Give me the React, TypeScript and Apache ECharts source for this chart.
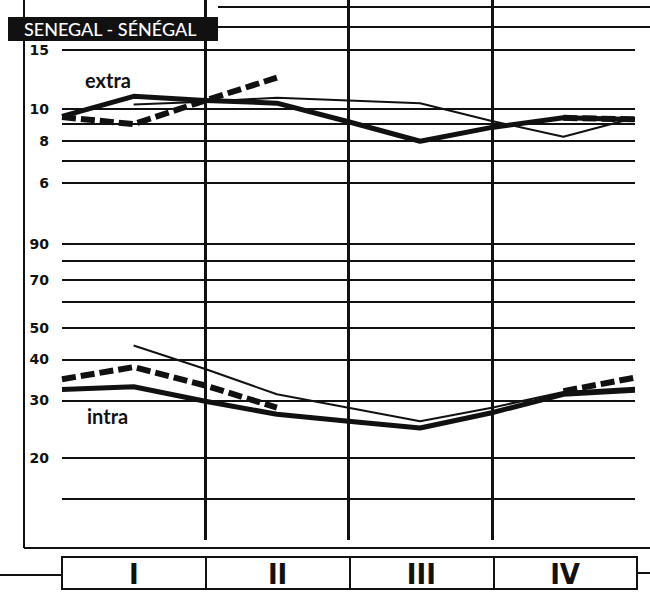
import React, { useEffect, useRef } from "react";
import * as echarts from "echarts";

// x positions: 0..8 (quarter starts/middles/ends)
const quarters = ["I", "II", "III", "IV"];
const quarterBounds = [2, 4, 6];

const upperGridValues = [15, 10, 9, 8, 7, 6];
const upperLabels = [15, 10, 8, 6];
const lowerGridValues = [90, 80, 70, 60, 50, 40, 30, 20, 15];
const lowerLabels = [90, 70, 50, 40, 30, 20];

const extraThick = [9.5, 10.9, 10.6, 10.4, 9.15, 8.0, 8.8, 9.4, 9.3];
const extraThin = [null, 10.3, 10.5, 10.8, 10.6, 10.4, 9.2, 8.25, 9.4];
const extraDashed = [9.45, 9.0, 10.6, 12.4, null, null, null, 9.4, 9.3];

const intraThick = [32.4, 33.0, 29.8, 27.2, 25.9, 24.7, 27.5, 31.3, 32.2];
const intraThin = [null, 44.1, 37.4, 31.3, 28.5, 25.9, 28.5, 31.8, 32.8];
const intraDashed = [34.8, 37.9, 33.3, 28.5, null, null, null, 32.0, 35.2];

const INK = "#111";

function pts(arr: (number | null)[]) {
  return arr.map((v, i) => [i, v == null ? "-" : v]);
}

function gridLines(values: number[], labels: number[]) {
  return values.map((v) => ({
    yAxis: v,
    label: {
      show: labels.includes(v),
      position: "start",
      distance: 13,
      formatter: String(v),
      color: INK,
      fontWeight: "bold",
      fontSize: 14,
      fontFamily: "DejaVu Sans",
    },
  }));
}

export default function App() {
  const ref = useRef<HTMLDivElement>(null);
  useEffect(() => {
    if (!ref.current) return;
    const chart = echarts.init(ref.current, null, { renderer: "svg" });
    const lineSeries = (
      name: string,
      data: (number | null)[],
      gi: number,
      width: number,
      dashed: boolean
    ) => ({
      name,
      type: "line",
      xAxisIndex: gi,
      yAxisIndex: gi,
      data: pts(data),
      symbol: "none",
      connectNulls: false,
      z: dashed ? 6 : 5,
      lineStyle: {
        color: INK,
        width,
        type: dashed ? [14, 5] : "solid",
        cap: "butt",
        join: "round",
      },
    });
    const option: any = {
      animation: false,
      backgroundColor: "#fff",
      grid: [
        { left: 62, right: 15, top: 0, height: 540 },
        { left: 62, right: 15, top: 50, height: 133 },
        { left: 62, right: 15, top: 244, height: 255 },
        {
          left: 62,
          right: 13,
          top: 557,
          height: 32,
          show: true,
          borderColor: INK,
          borderWidth: 2,
        },
      ],
      xAxis: [
        { gridIndex: 0, type: "value", min: 0, max: 8, show: false },
        { gridIndex: 1, type: "value", min: 0, max: 8, show: false },
        { gridIndex: 2, type: "value", min: 0, max: 8, show: false },
        {
          gridIndex: 3,
          type: "category",
          data: quarters,
          position: "top",
          axisLine: { show: false },
          axisTick: { show: false },
          splitLine: { show: true, lineStyle: { color: INK, width: 2 } },
          axisLabel: {
            inside: true,
            margin: 2,
            color: INK,
            fontSize: 29,
            fontWeight: "bold",
            fontFamily: "DejaVu Sans Condensed",
          },
        },
      ],
      yAxis: [
        { gridIndex: 0, type: "value", min: 0, max: 1, show: false },
        { gridIndex: 1, type: "log", logBase: 10, min: 6, max: 15, show: false },
        { gridIndex: 2, type: "log", logBase: 10, min: 15, max: 90, show: false },
        { gridIndex: 3, type: "value", min: 0, max: 1, show: false },
      ],
      series: [
        {
          type: "line",
          xAxisIndex: 0,
          yAxisIndex: 0,
          data: [],
          z: 1,
          markLine: {
            silent: true,
            symbol: ["none", "none"],
            label: { show: false },
            lineStyle: { color: INK, width: 3, type: "solid" },
            data: quarterBounds.map((q) => ({ xAxis: q })),
          },
        },
        {
          type: "line",
          xAxisIndex: 1,
          yAxisIndex: 1,
          data: [],
          z: 1,
          markLine: {
            silent: true,
            symbol: ["none", "none"],
            lineStyle: { color: INK, width: 2, type: "solid" },
            data: gridLines(upperGridValues, upperLabels),
          },
        },
        {
          type: "line",
          xAxisIndex: 2,
          yAxisIndex: 2,
          data: [],
          z: 1,
          markLine: {
            silent: true,
            symbol: ["none", "none"],
            lineStyle: { color: INK, width: 2, type: "solid" },
            data: gridLines(lowerGridValues, lowerLabels),
          },
        },
        lineSeries("extra-thick", extraThick, 1, 5, false),
        lineSeries("extra-thin", extraThin, 1, 2, false),
        lineSeries("extra-dashed", extraDashed, 1, 6, true),
        lineSeries("intra-thick", intraThick, 2, 5, false),
        lineSeries("intra-thin", intraThin, 2, 2, false),
        lineSeries("intra-dashed", intraDashed, 2, 6, true),
      ],
      graphic: [
        // frame
        { type: "line", shape: { x1: 24, y1: 0, x2: 24, y2: 548 }, style: { stroke: INK, lineWidth: 2 } },
        { type: "line", shape: { x1: 24, y1: 548, x2: 650, y2: 548 }, style: { stroke: INK, lineWidth: 2 } },
        { type: "line", shape: { x1: 218, y1: 7, x2: 650, y2: 7 }, style: { stroke: INK, lineWidth: 2 } },
        { type: "line", shape: { x1: 218, y1: 27, x2: 650, y2: 27 }, style: { stroke: INK, lineWidth: 2 } },
        { type: "line", shape: { x1: 0, y1: 575, x2: 62, y2: 575 }, style: { stroke: INK, lineWidth: 2 } },
        { type: "line", shape: { x1: 637, y1: 573, x2: 650, y2: 573 }, style: { stroke: INK, lineWidth: 2 } },
        // title
        { type: "rect", shape: { x: 8, y: 17, width: 210, height: 24 }, style: { fill: INK } },
        {
          type: "text",
          x: 24,
          y: 29,
          style: {
            text: "SENEGAL - SÉNÉGAL",
            fill: "#fff",
            fontSize: 18,
            fontFamily: "Lato",
            fontWeight: 500,
            verticalAlign: "middle",
          },
        },
        {
          type: "text",
          x: 85,
          y: 80,
          style: { text: "extra", fill: INK, fontSize: 20, fontWeight: "bold", fontFamily: "Lato", verticalAlign: "middle" },
        },
        {
          type: "text",
          x: 87,
          y: 416,
          style: { text: "intra", fill: INK, fontSize: 20, fontWeight: "bold", fontFamily: "Lato", verticalAlign: "middle" },
        },
      ],
    };
    chart.setOption(option);
    return () => chart.dispose();
  }, []);
  return (
    <div
      ref={ref}
      style={{ position: "absolute", left: 0, top: 0, width: 650, height: 592, background: "#fff" }}
    />
  );
}
